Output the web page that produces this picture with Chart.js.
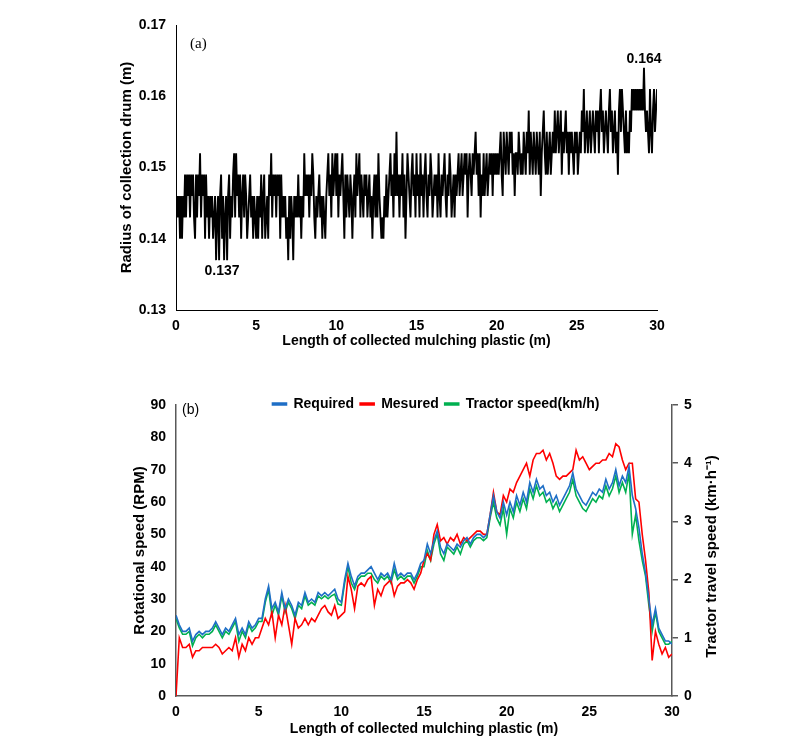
<!DOCTYPE html>
<html>
<head>
<meta charset="utf-8">
<script src="https://cdn.jsdelivr.net/npm/chart.js@4.4.1/dist/chart.umd.min.js"></script>
<style>
  body { margin: 0; background: #fff; }
  #wrapA { position: absolute; left: 0; top: 0; width: 800px; height: 360px; }
  #wrapB { position: absolute; left: 0; top: 385px; width: 800px; height: 368px; }
</style>
</head>
<body>
<div id="wrapA"><canvas id="radiusChart"></canvas></div>
<div id="wrapB"><canvas id="speedChart"></canvas></div>
<script>
// ---- panel (a): radius of the collection drum, one reading every 0.0625 m ----
const radiusStep = 0.0625;
const drumRadius = [
  0.143,0.146,0.143,0.146,0.140,0.146,0.140,0.146,0.143,0.149,0.143,0.149,0.146,0.149,0.143,0.149,0.146,0.149,0.143,0.140,
  0.149,0.143,0.149,0.146,0.152,0.143,0.149,0.146,0.149,0.140,0.149,0.143,0.146,0.140,0.146,0.143,0.146,0.140,0.143,0.146,
  0.137,0.143,0.146,0.137,0.146,0.149,0.140,0.146,0.137,0.143,0.146,0.137,0.146,0.149,0.140,0.146,0.143,0.149,0.152,0.143,
  0.152,0.146,0.149,0.143,0.149,0.140,0.146,0.149,0.143,0.149,0.146,0.140,0.143,0.146,0.149,0.143,0.146,0.140,0.146,0.143,
  0.140,0.146,0.140,0.146,0.143,0.149,0.140,0.146,0.149,0.140,0.143,0.146,0.140,0.149,0.146,0.152,0.143,0.149,0.146,0.149,
  0.143,0.149,0.146,0.149,0.140,0.149,0.143,0.146,0.143,0.146,0.140,0.143,0.137,0.146,0.140,0.146,0.143,0.137,0.146,0.143,
  0.146,0.143,0.149,0.143,0.146,0.140,0.146,0.143,0.152,0.146,0.149,0.146,0.149,0.143,0.149,0.146,0.152,0.149,0.143,0.140,
  0.146,0.143,0.146,0.149,0.143,0.146,0.140,0.146,0.143,0.140,0.146,0.149,0.152,0.146,0.149,0.143,0.152,0.146,0.149,0.152,
  0.146,0.152,0.143,0.149,0.146,0.149,0.152,0.146,0.140,0.149,0.143,0.149,0.146,0.143,0.149,0.146,0.140,0.146,0.149,0.143,
  0.152,0.146,0.149,0.152,0.143,0.149,0.146,0.143,0.149,0.146,0.149,0.143,0.146,0.149,0.143,0.146,0.140,0.146,0.149,0.143,
  0.149,0.143,0.152,0.146,0.143,0.140,0.143,0.140,0.146,0.143,0.149,0.143,0.146,0.149,0.152,0.146,0.149,0.143,0.152,0.146,
  0.155,0.146,0.149,0.143,0.149,0.146,0.152,0.143,0.149,0.140,0.146,0.152,0.149,0.146,0.143,0.149,0.152,0.146,0.149,0.143,
  0.152,0.146,0.149,0.143,0.152,0.146,0.149,0.143,0.149,0.152,0.146,0.143,0.149,0.146,0.152,0.149,0.143,0.146,0.149,0.146,
  0.149,0.143,0.152,0.146,0.143,0.149,0.146,0.149,0.152,0.146,0.143,0.149,0.146,0.152,0.149,0.143,0.146,0.149,0.143,0.149,
  0.146,0.149,0.152,0.146,0.149,0.152,0.146,0.149,0.152,0.149,0.152,0.143,0.149,0.152,0.149,0.146,0.152,0.149,0.152,0.155,
  0.149,0.152,0.146,0.152,0.143,0.149,0.146,0.152,0.146,0.149,0.152,0.146,0.149,0.152,0.149,0.152,0.146,0.152,0.149,0.152,
  0.149,0.152,0.149,0.152,0.155,0.149,0.146,0.155,0.152,0.149,0.155,0.152,0.149,0.155,0.152,0.155,0.149,0.152,0.146,0.152,
  0.152,0.149,0.155,0.152,0.149,0.152,0.149,0.155,0.152,0.149,0.155,0.152,0.158,0.149,0.155,0.152,0.149,0.155,0.152,0.149,
  0.155,0.152,0.149,0.155,0.146,0.152,0.155,0.158,0.152,0.149,0.155,0.149,0.152,0.155,0.149,0.152,0.155,0.152,0.158,0.152,
  0.155,0.158,0.152,0.155,0.158,0.149,0.155,0.152,0.155,0.158,0.152,0.155,0.149,0.155,0.152,0.155,0.152,0.149,0.155,0.152,
  0.155,0.149,0.152,0.155,0.152,0.158,0.155,0.161,0.152,0.155,0.158,0.152,0.155,0.158,0.152,0.155,0.158,0.155,0.152,0.158,
  0.155,0.158,0.152,0.158,0.161,0.155,0.158,0.152,0.155,0.158,0.155,0.152,0.158,0.161,0.155,0.158,0.152,0.155,0.158,0.152,
  0.155,0.149,0.158,0.161,0.155,0.161,0.158,0.155,0.152,0.158,0.152,0.155,0.152,0.158,0.155,0.161,0.158,0.161,0.158,0.161,
  0.158,0.161,0.158,0.161,0.158,0.161,0.158,0.164,0.158,0.155,0.158,0.155,0.152,0.161,0.155,0.152,0.158,0.161,0.155,0.158,
  0.161
];

// ---- panel (b): rotational speed and tractor speed, one reading every 0.2 m ----
const speedStep = 0.2;
const requiredRpm = [
  25,22,20,20,21,17,19,20,19,20,
  20,21,23,21,19,21,20,22,24,19,
  21,19,23,21,22,24,24,30,34,27,
  29,26,32,27,30,28,25,29,28,32,
  29,30,29,32,31,32,31,32,33,30,
  29,36,41,37,34,37,38,38,39,40,
  38,36,38,37,38,36,41,37,38,37,
  38,38,36,38,41,42,47,44,48,51,
  46,44,47,46,45,47,46,48,49,47,
  49,50,50,49,50,56,62,57,55,60,
  56,60,57,62,59,63,60,66,63,67,
  64,65,62,63,60,62,59,61,63,65,
  69,64,62,60,59,61,63,62,64,63,
  67,64,66,70,65,68,66,71,62,58,
  52,44,38,30,22,27,21,19,17,17,
  16
];
const measuredRpm = [
  0,18,15,15,16,12,14,14,15,15,
  15,15,16,15,13,14,15,14,18,12,
  16,14,18,16,18,18,21,24,22,26,
  18,25,22,28,22,16,24,21,22,24,
  22,24,23,25,27,28,26,25,28,24,
  25,26,37,33,27,34,35,34,36,37,
  28,33,31,34,35,36,31,34,35,35,
  36,35,33,36,38,42,44,42,50,53,
  48,49,47,49,48,50,47,49,48,49,
  50,51,51,50,50,56,63,57,56,62,
  60,64,63,66,68,70,72,68,73,75,
  75,76,73,75,72,68,67,68,68,69,
  70,76,73,74,72,70,71,72,72,73,
  73,75,74,78,77,73,70,72,72,61,
  60,50,42,32,11,20,16,13,15,12,
  13
];
// km/h, right axis
const tractorSpeed = [
  1.33,1.17,1.06,1.06,1.11,0.86,1.00,1.06,1.00,1.06,
  1.06,1.11,1.22,1.11,1.00,1.11,1.06,1.17,1.28,0.94,
  1.11,1.00,1.22,1.11,1.17,1.28,1.28,1.61,1.83,1.39,
  1.56,1.39,1.72,1.44,1.61,1.50,1.33,1.56,1.50,1.72,
  1.56,1.61,1.56,1.72,1.67,1.72,1.67,1.72,1.75,1.58,
  1.56,1.94,2.22,1.94,1.83,2.00,2.06,2.06,2.11,2.11,
  2.00,1.94,2.06,2.00,2.06,1.94,2.17,2.00,2.06,2.00,
  2.06,2.06,1.94,2.06,2.22,2.22,2.50,2.33,2.61,2.78,
  2.44,2.33,2.56,2.50,2.44,2.56,2.44,2.61,2.67,2.56,
  2.67,2.72,2.72,2.67,2.72,3.06,3.33,3.06,2.94,3.22,
  2.78,3.22,3.06,3.33,3.17,3.39,3.22,3.56,3.39,3.61,
  3.44,3.50,3.33,3.39,3.22,3.33,3.17,3.28,3.39,3.50,
  3.72,3.44,3.33,3.22,3.17,3.28,3.39,3.33,3.44,3.39,
  3.61,3.44,3.56,3.78,3.50,3.67,3.50,3.83,2.78,3.11,
  2.67,2.33,2.06,1.56,1.11,1.44,1.11,1.00,0.89,0.89,
  0.94
];

const seriesNames = ['Required', 'Mesured', 'Tractor speed(km/h)'];
const seriesColors = ['#1F6FC6', '#FF0000', '#00B050'];

Chart.defaults.font.family = '"Liberation Sans", Arial, sans-serif';
Chart.defaults.color = '#000';

function toPoints(values, step) {
  return values.map((v, i) => ({ x: i * step, y: v }));
}

const boldFont = size => ({ size: size, weight: 'bold' });

// labels (a), min and max values on the top chart
const radiusNotes = {
  id: 'radiusNotes',
  afterDatasetsDraw(chart) {
    const { ctx, chartArea, scales: { x, y } } = chart;
    const lo = Math.min(...drumRadius);
    const hi = Math.max(...drumRadius);
    const iLo = drumRadius.indexOf(lo);
    const iHi = drumRadius.indexOf(hi);
    ctx.save();
    ctx.fillStyle = '#000';
    ctx.textBaseline = 'middle';
    ctx.textAlign = 'left';
    ctx.font = '15px "Liberation Serif", serif';
    ctx.fillText('(a)', chartArea.left + 14, chartArea.top + 19);
    ctx.textAlign = 'center';
    ctx.font = 'bold 14px "Liberation Sans", Arial, sans-serif';
    ctx.fillText(lo.toFixed(3), x.getPixelForValue(iLo * radiusStep) + 6, y.getPixelForValue(lo) + 11);
    ctx.fillText(hi.toFixed(3), x.getPixelForValue(iHi * radiusStep), y.getPixelForValue(hi) - 9);
    ctx.restore();
  }
};

new Chart(document.getElementById('radiusChart'), {
  type: 'line',
  data: {
    datasets: [{
      data: toPoints(drumRadius, radiusStep),
      borderColor: '#000',
      borderWidth: 1.9,
      pointRadius: 0,
      tension: 0
    }]
  },
  options: {
    responsive: true,
    maintainAspectRatio: false,
    animation: false,
    layout: { padding: { left: 0, right: 143, top: 25, bottom: 10 } },
    plugins: { legend: { display: false }, tooltip: { enabled: false } },
    scales: {
      x: {
        type: 'linear', min: 0, max: 30,
        grid: { display: false, drawTicks: false },
        border: { color: '#000', width: 1 },
        ticks: { stepSize: 5, padding: 8, font: boldFont(14), maxRotation: 0 },
        title: { display: true, text: 'Length of collected mulching plastic (m)', font: boldFont(14), padding: 0 },
        afterFit(s) { s.height = 40; }
      },
      y: {
        min: 0.13, max: 0.17,
        grid: { display: false, drawTicks: false },
        border: { color: '#000', width: 1 },
        ticks: { stepSize: 0.01, padding: 10, font: boldFont(14), callback: v => v.toFixed(2) },
        title: { display: true, text: 'Radius of collection drum (m)', font: boldFont(15), padding: { top: 118, bottom: 0 } },
        afterFit(s) { s.width = 176; }
      }
    }
  },
  plugins: [radiusNotes]
});

// squeeze the legend so it sits right on top of the plot, and let it draw past its box
const legendHeight = {
  id: 'legendHeight',
  beforeInit(chart) {
    const legend = chart.legend;
    const fit = legend.fit;
    legend.fit = function () {
      fit.call(this);
      this.height = 14;
    };
    legend.draw = function () {
      if (this.options.display) this._draw();
    };
  }
};

// (b) label and right axis title (reads bottom to top)
const speedNotes = {
  id: 'speedNotes',
  afterDraw(chart) {
    const { ctx, chartArea, scales } = chart;
    ctx.save();
    ctx.fillStyle = '#000';
    ctx.textBaseline = 'middle';
    ctx.textAlign = 'left';
    ctx.font = '14px "Liberation Sans", Arial, sans-serif';
    ctx.fillText('(b)', chartArea.left + 6, chartArea.top + 5);
    ctx.translate(scales.y1.left + 40, (chartArea.top + chartArea.bottom) / 2 + 6);
    ctx.rotate(-Math.PI / 2);
    ctx.textAlign = 'center';
    ctx.font = 'bold 15px "Liberation Sans", Arial, sans-serif';
    ctx.fillText('Tractor travel speed (km\u00b7h\u207b\u00b9)', 0, 0);
    ctx.restore();
  }
};

new Chart(document.getElementById('speedChart'), {
  type: 'line',
  data: {
    datasets: [
      { label: seriesNames[0], data: toPoints(requiredRpm, speedStep), yAxisID: 'y' },
      { label: seriesNames[1], data: toPoints(measuredRpm, speedStep), yAxisID: 'y' },
      { label: seriesNames[2], data: toPoints(tractorSpeed, speedStep), yAxisID: 'y1' }
    ].map((d, i) => Object.assign(d, {
      borderColor: seriesColors[i],
      backgroundColor: seriesColors[i],
      borderWidth: 1.6,
      pointRadius: 0,
      tension: 0
    }))
  },
  options: {
    responsive: true,
    maintainAspectRatio: false,
    animation: false,
    layout: { padding: { left: 72, right: 0, top: 6, bottom: 15 } },
    plugins: {
      tooltip: { enabled: false },
      legend: {
        position: 'top',
        labels: { boxWidth: 14, boxHeight: 2, padding: 6, font: boldFont(14), color: '#000' }
      }
    },
    scales: {
      x: {
        type: 'linear', min: 0, max: 30,
        grid: { display: false, drawTicks: false },
        border: { color: '#595959', width: 1.5 },
        ticks: { stepSize: 5, padding: 8, font: boldFont(14), maxRotation: 0 },
        title: { display: true, text: 'Length of collected mulching plastic (m)', font: boldFont(14), padding: 0 },
        afterFit(s) { s.height = 42; }
      },
      y: {
        position: 'left', min: 0, max: 90,
        grid: { display: false, drawTicks: false },
        border: { color: '#595959', width: 1.5 },
        ticks: { stepSize: 10, padding: 10, font: boldFont(14) },
        title: { display: true, text: 'Rotational speed (RPM)', font: boldFont(15), padding: { top: 59, bottom: 0 } },
        afterFit(s) { s.width = 104; }
      },
      y1: {
        position: 'right', min: 0, max: 5,
        grid: { display: true, drawOnChartArea: false, drawTicks: true, tickLength: 6, color: '#595959', lineWidth: 1.5 },
        border: { color: '#595959', width: 1.5 },
        ticks: { stepSize: 1, padding: 6, font: boldFont(14) },
        afterFit(s) { s.width = 128; }
      }
    }
  },
  plugins: [legendHeight, speedNotes]
});
</script>
</body>
</html>
